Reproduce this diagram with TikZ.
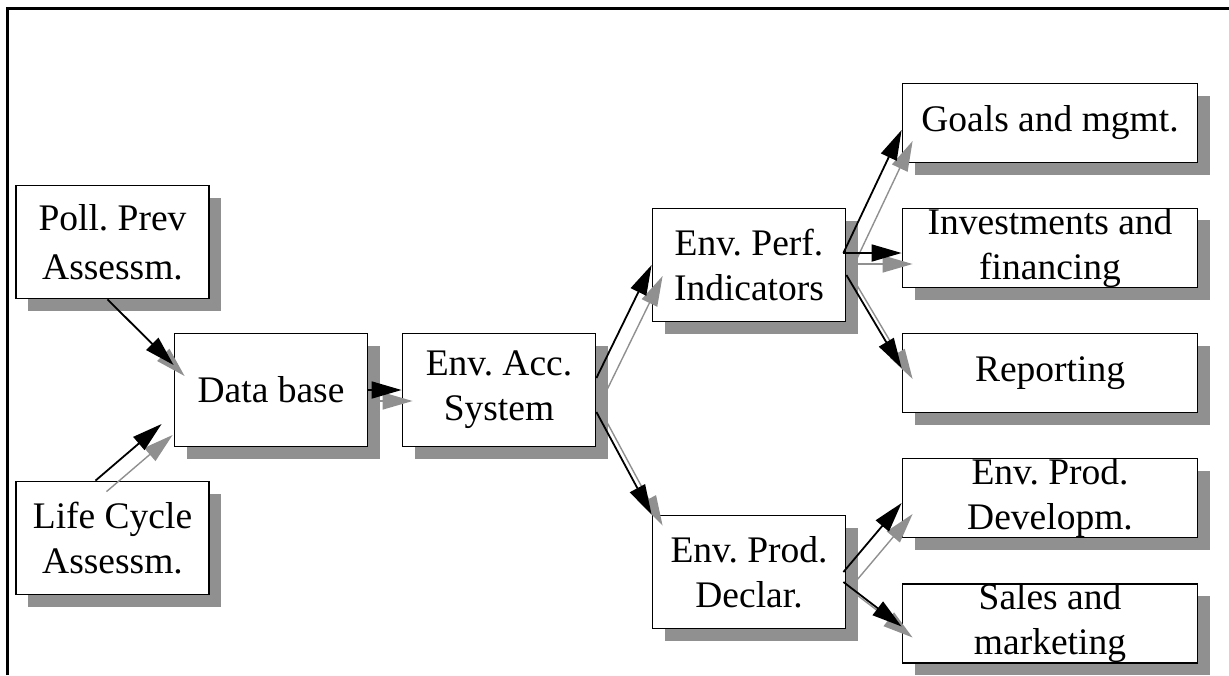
\documentclass[tikz,border=0pt]{standalone}
\usepackage{fontspec}
\setmainfont{Liberation Serif}
\usetikzlibrary{arrows.meta,calc,shadows}
\definecolor{shadowgray}{RGB}{144,144,144}
\frenchspacing
\begin{document}
\begin{tikzpicture}[x=1pt,y=-1pt,
  box/.style={draw, line width=1.8pt, fill=white, inner sep=0pt, align=center,
    font=\fontsize{37.5}{45}\selectfont,
    drop shadow={shadow xshift=12pt, shadow yshift=-12pt, fill=shadowgray, opacity=1, draw=none}},
  smallbox/.style={box, minimum width=193pt, minimum height=113pt},
  widebox/.style={box, minimum width=295pt, minimum height=79pt},
  tipshape/.style={-{Triangle[length=30pt,width=17pt]}},
  flow/.style={tipshape, draw=black, line width=1.8pt},
  flowshadow/.style={tipshape, draw=shadowgray, line width=1.4pt,
    transform canvas={xshift=11pt,yshift=-11pt}},
  frameline/.style={line width=2.5pt}
]
\useasboundingbox (0,0) rectangle (1229,675);

% open frame: left and top edges only
\coordinate (fbl) at (7.7,675);
\coordinate (ftl) at (7.7,8.3);
\coordinate (ftr) at (1229,8.3);
\draw[frameline] (fbl) -- (ftl) -- (ftr);

% source boxes
\node[smallbox, font=\fontsize{37.5}{51}\selectfont] (poll) at (112.5,242) {Poll. Prev\\[-2pt]Assessm.};
\node[smallbox] (lca) at (112.5,538) {Life Cycle\\Assessm.};

% processing chain
\node[smallbox] (db)  at (271,390) {Data base};
\node[smallbox] (eas) at (499,390) {Env. Acc.\\System};
\node[smallbox] (epi) at (749,265) {Env. Perf.\\Indicators};
\node[smallbox] (epd) at (749,572) {Env. Prod.\\Declar.};

% targets
\node[widebox] (goals) at (1050,123)   {Goals and mgmt.};
\node[widebox] (inv)   at (1050,248)   {Investments and\\financing};
\node[widebox] (rep)   at (1050,373)   {Reporting};
\node[widebox] (dev)   at (1050,498)   {Env. Prod.\\Developm.};
\node[widebox] (sales) at (1050,623.5) {Sales and\\marketing};

% connector end points
\coordinate (p1a) at ($(poll.south)+(-5,0)$);
\coordinate (p1b) at ($(db.west)+(0,-25)$);
\coordinate (p2a) at ($(lca.north)+(-17,0)$);
\coordinate (p2b) at ($(db.west)+(-12,34)$);
\coordinate (p4a) at ($(eas.east)+(0,-12)$);
\coordinate (p5a) at ($(eas.east)+(0,22)$);
\coordinate (p6a) at ($(epi.east)+(-3,-12)$);
\coordinate (p6b) at ($(goals.west)+(0,7)$);
\coordinate (p7b) at ($(inv.west)+(0,5)$);
\coordinate (p8a) at ($(epi.east)+(0,10)$);
\coordinate (p8b) at ($(rep.west)+(0,-5)$);
\coordinate (p9a) at ($(epd.east)+(-3,0)$);
\coordinate (p9b) at ($(dev.west)+(0,5)$);
\coordinate (p10a) at ($(epd.east)+(-3,10)$);
\coordinate (p10b) at ($(sales.west)+(0,3)$);

% grey shadow copies of the connectors
\draw[flowshadow] (p1a) -- (p1b);
\draw[flowshadow] (p2a) -- (p2b);
\draw[flowshadow] (db.east) -- (eas.west);
\draw[flowshadow] (p4a) -- (epi.west);
\draw[flowshadow] (p5a) -- (epd.north west);
\draw[flowshadow] (p6a) -- (p6b);
\draw[flowshadow] (p6a) -- (p7b);
\draw[flowshadow] (p8a) -- (p8b);
\draw[flowshadow] (p9a) -- (p9b);
\draw[flowshadow] (p10a) -- (p10b);

% black connectors
\draw[flow] (p1a) -- (p1b);
\draw[flow] (p2a) -- (p2b);
\draw[flow] (db.east) -- (eas.west);
\draw[flow] (p4a) -- (epi.west);
\draw[flow] (p5a) -- (epd.north west);
\draw[flow] (p6a) -- (p6b);
\draw[flow] (p6a) -- (p7b);
\draw[flow] (p8a) -- (p8b);
\draw[flow] (p9a) -- (p9b);
\draw[flow] (p10a) -- (p10b);
\end{tikzpicture}
\end{document}
